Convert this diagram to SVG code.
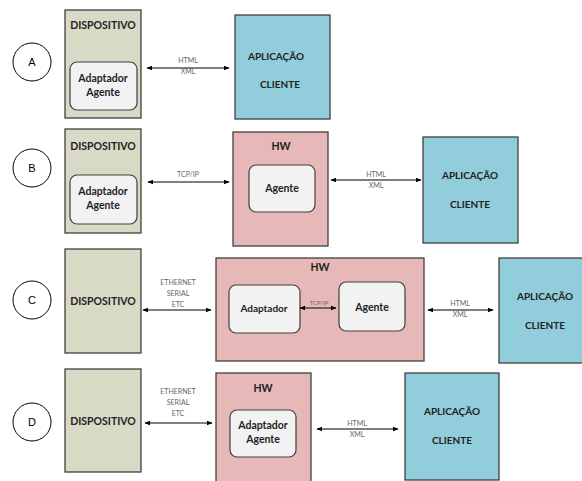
<svg xmlns="http://www.w3.org/2000/svg" width="582" height="481" viewBox="0 0 582 481">
<style>
.bg{fill:#ffffff}
.circ{fill:#ffffff;stroke:#000000;stroke-width:1}
.dev{fill:#d8dac6;stroke:#404040;stroke-width:1.3}
.hw{fill:#e6b8b7;stroke:#404040;stroke-width:1.3}
.app{fill:#92cddc;stroke:#404040;stroke-width:1.3}
.inner{fill:#f2f2f2;stroke:#404040;stroke-width:1.2}
.t{font-family:Lato,"Open Sans","Liberation Sans",sans-serif;font-weight:bold;font-size:10.5px;fill:#222222;text-anchor:middle}
.ts{font-family:Lato,"Open Sans","Liberation Sans",sans-serif;font-weight:bold;font-size:10px;fill:#222222;text-anchor:middle}
.lt{font-family:"Liberation Sans",Arial,sans-serif;font-size:11px;fill:#000000;text-anchor:middle}
.lab{font-family:Lato,"Liberation Sans",sans-serif;font-size:7px;fill:#666666;text-anchor:middle}
.con{stroke:#000000;stroke-width:1.2;fill:none;marker-start:url(#ah);marker-end:url(#ah)}
</style>
<defs>
<marker id="ah" viewBox="0 0 10 10" refX="9" refY="5" markerWidth="6" markerHeight="6" orient="auto-start-reverse" markerUnits="userSpaceOnUse">
<path d="M0,1 L10,5 L0,9 z" fill="#000000"/>
</marker>
</defs>
<rect class="bg" x="0" y="0" width="582" height="481"/>

<g id="rowA">
<g id="circleA"><circle class="circ" cx="32" cy="62" r="19"/><text class="lt" x="32" y="66">A</text></g>
<g id="devA"><rect class="dev" x="65" y="10" width="76" height="108"/><text class="t" x="103" y="29">DISPOSITIVO</text>
<rect class="inner" x="70" y="62" width="67" height="48" rx="7"/><text class="t" x="103" y="82">Adaptador</text><text class="t" x="103" y="96">Agente</text></g>
<g id="appA"><rect class="app" x="235" y="15" width="95" height="104"/><text class="ts" x="276" y="60">APLICAÇÃO</text><text class="ts" x="280" y="88">CLIENTE</text></g>
</g>

<g id="rowB">
<g id="circleB"><circle class="circ" cx="32" cy="168" r="19"/><text class="lt" x="32" y="172">B</text></g>
<g id="devB"><rect class="dev" x="65" y="129" width="76" height="104"/><text class="t" x="103" y="150">DISPOSITIVO</text>
<rect class="inner" x="70" y="175" width="67" height="49" rx="7"/><text class="t" x="103" y="195">Adaptador</text><text class="t" x="103" y="209">Agente</text></g>
<g id="hwB"><rect class="hw" x="233" y="132" width="95" height="114"/><text class="t" x="281" y="150">HW</text>
<rect class="inner" x="249" y="165" width="66" height="47" rx="7"/><text class="t" x="282" y="192">Agente</text></g>
<g id="appB"><rect class="app" x="423" y="137" width="95" height="106"/><text class="ts" x="470" y="179">APLICAÇÃO</text><text class="ts" x="470" y="208">CLIENTE</text></g>
</g>

<g id="rowC">
<g id="circleC"><circle class="circ" cx="32" cy="300" r="19"/><text class="lt" x="32" y="304">C</text></g>
<g id="devC"><rect class="dev" x="65" y="249" width="76" height="104"/><text class="t" x="103" y="305">DISPOSITIVO</text></g>
<g id="hwC"><rect class="hw" x="216" y="258" width="208" height="103"/><text class="t" x="320" y="271">HW</text>
<rect class="inner" x="229" y="285" width="71" height="48" rx="7"/><text class="ts" x="264" y="312">Adaptador</text>
<rect class="inner" x="339" y="282" width="66" height="49" rx="7"/><text class="t" x="372" y="311">Agente</text></g>
<g id="appC"><rect class="app" x="499" y="258" width="90" height="105"/><text class="ts" x="545" y="300">APLICAÇÃO</text><text class="ts" x="545" y="329">CLIENTE</text></g>
</g>

<g id="rowD">
<g id="circleD"><circle class="circ" cx="32" cy="422" r="19"/><text class="lt" x="32" y="426">D</text></g>
<g id="devD"><rect class="dev" x="65" y="369" width="76" height="103"/><text class="t" x="103" y="425">DISPOSITIVO</text></g>
<g id="hwD"><rect class="hw" x="216" y="373" width="95" height="112"/><text class="t" x="263" y="392">HW</text>
<rect class="inner" x="230" y="410" width="66" height="47" rx="7"/><text class="t" x="263" y="429">Adaptador</text><text class="t" x="263" y="443">Agente</text></g>
<g id="appD"><rect class="app" x="405" y="373" width="94" height="107"/><text class="ts" x="452" y="415">APLICAÇÃO</text><text class="ts" x="452" y="444">CLIENTE</text></g>
</g>

<g id="connectors">
<line class="con" x1="147" y1="68" x2="229" y2="68"/>
<text class="lab" x="188" y="63">HTML</text><text class="lab" x="188" y="74">XML</text>
<line class="con" x1="148" y1="182" x2="229" y2="182"/>
<text class="lab" x="188" y="177">TCP/IP</text>
<line class="con" x1="331" y1="180" x2="421" y2="180"/>
<text class="lab" x="376" y="177">HTML</text><text class="lab" x="376" y="188">XML</text>
<line class="con" x1="143" y1="310" x2="211" y2="310"/>
<text class="lab" x="178" y="285">ETHERNET</text><text class="lab" x="178" y="296">SERIAL</text><text class="lab" x="178" y="307">ETC</text>
<line class="con" x1="300" y1="308" x2="336" y2="308"/>
<text class="lab" x="319" y="305" style="font-size:6px">TCP/IP</text>
<line class="con" x1="428" y1="310" x2="493" y2="310"/>
<text class="lab" x="460" y="306">HTML</text><text class="lab" x="460" y="317">XML</text>
<line class="con" x1="145" y1="423" x2="212" y2="423"/>
<text class="lab" x="178" y="394">ETHERNET</text><text class="lab" x="178" y="405">SERIAL</text><text class="lab" x="178" y="416">ETC</text>
<line class="con" x1="317" y1="429" x2="398" y2="429"/>
<text class="lab" x="357" y="426">HTML</text><text class="lab" x="357" y="437">XML</text>
</g>
</svg>
